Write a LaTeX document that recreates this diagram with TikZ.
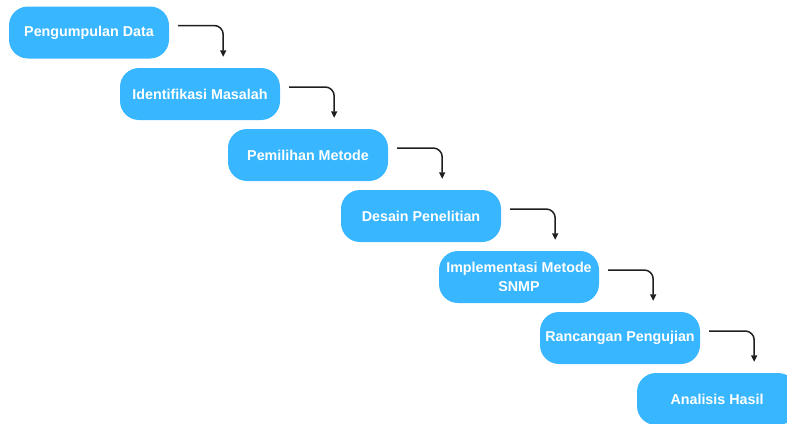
\documentclass[tikz,border=0pt]{standalone}
\usepackage{fontspec}
\setmainfont{Liberation Sans}
\usepackage{tikz}
\usetikzlibrary{arrows.meta, positioning, calc}
\definecolor{skyblue}{HTML}{38B6FF}
\definecolor{arrowgray}{HTML}{1E1E1E}

\begin{document}
\begin{tikzpicture}[x=1pt, y=-1pt,
      box/.style={fill=skyblue, draw=none, rounded corners=19pt,
                  minimum width=160pt, minimum height=52pt,
                  font=\fontsize{14.3}{19}\selectfont\bfseries, text=white, align=center},
      arrow/.style={-{Triangle[length=6.5pt, width=6pt]}, line width=1.5pt,
                    arrowgray, rounded corners=9pt}
    ]
    \clip (0,0) rectangle (787,423);
    \useasboundingbox (0,0) rectangle (787,423);
    \node[box] (data)     at (89,32.5)  {Pengumpulan Data};
    \node[box] (ident)    at (200,94)   {Identifikasi Masalah};
    \node[box] (metode)   at (308,155)  {Pemilihan Metode};
    \node[box] (desain)   at (421,216)  {Desain Penelitian};
    \node[box] (impl)     at (519,277)  {Implementasi Metode\\SNMP};
    \node[box] (uji)      at (620,338)  {Rancangan Pengujian};
    \node[box] (analisis) at (717,399)  {Analisis Hasil};
    % step arrows: out of the right side, then down next to the lower box
    \foreach \a/\b in {data/ident, ident/metode, metode/desain,
                       desain/impl, impl/uji, uji/analisis}{
      \coordinate (\a-end) at ([xshift=54pt]\a.east |- \b.north);
      \draw[arrow] ([xshift=9pt, yshift=7pt]\a.east) -| ([yshift=11pt]\a-end);
    }
  \end{tikzpicture}
\end{document}
